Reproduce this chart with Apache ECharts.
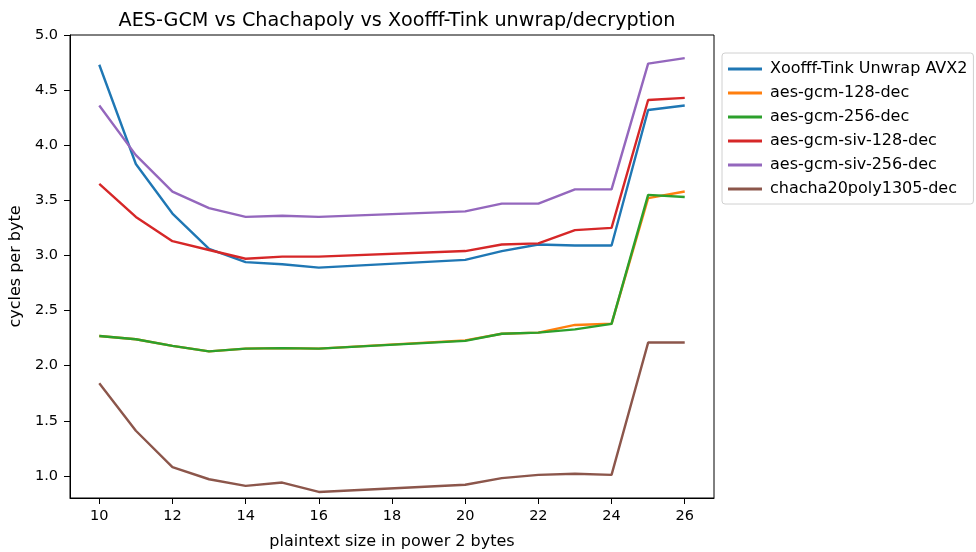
<!DOCTYPE html>
<html>
<head>
<meta charset="utf-8">
<script src="https://cdn.jsdelivr.net/npm/echarts@6/dist/echarts.min.js"></script>
<style>html,body{margin:0;padding:0;background:#fff}#c{width:976px;height:552px}</style>
</head>
<body>
<div id="c"></div>
<script>
const xs = [10, 11, 12, 13, 14, 15, 16, 20, 21, 22, 23, 24, 25, 26];
const seriesNames = ["Xoofff-Tink Unwrap AVX2", "aes-gcm-128-dec", "aes-gcm-256-dec", "aes-gcm-siv-128-dec", "aes-gcm-siv-256-dec", "chacha20poly1305-dec"];
const xoofff = [4.73, 3.83, 3.38, 3.06, 2.94, 2.92, 2.89, 2.96, 3.04, 3.10, 3.09, 3.09, 4.32, 4.36];
const gcm128 = [2.27, 2.24, 2.18, 2.13, 2.155, 2.16, 2.155, 2.23, 2.29, 2.30, 2.37, 2.38, 3.52, 3.58];
const gcm256 = [2.27, 2.24, 2.18, 2.13, 2.155, 2.16, 2.155, 2.225, 2.29, 2.30, 2.33, 2.38, 3.55, 3.53];
const siv128 = [3.65, 3.35, 3.13, 3.05, 2.97, 2.99, 2.99, 3.04, 3.10, 3.11, 3.23, 3.25, 4.41, 4.43];
const siv256 = [4.36, 3.91, 3.58, 3.43, 3.35, 3.36, 3.35, 3.40, 3.47, 3.47, 3.60, 3.60, 4.74, 4.79];
const chacha = [1.84, 1.41, 1.08, 0.97, 0.91, 0.94, 0.855, 0.92, 0.98, 1.01, 1.02, 1.01, 2.21, 2.21];
const xTicks = [10, 12, 14, 16, 18, 20, 22, 24, 26];
const yTicks = [1.0, 1.5, 2.0, 2.5, 3.0, 3.5, 4.0, 4.5, 5.0];
const colors = ["#1f77b4", "#ff7f0e", "#2ca02c", "#d62728", "#9467bd", "#8c564b"];
const values = [xoofff, gcm128, gcm256, siv128, siv256, chacha];

const font = "DejaVu Sans";
const chart = echarts.init(document.getElementById('c'), null, {renderer: 'canvas'});
chart.setOption({
  animation: false,
  backgroundColor: '#fff',
  textStyle: {fontFamily: font},
  title: {
    text: 'AES-GCM vs Chachapoly vs Xoofff-Tink unwrap/decryption',
    left: 392, top: 7, textAlign: 'center',
    textStyle: {fontFamily: font, fontSize: 19.2, fontWeight: 'normal', color: '#000'}
  },
  grid: {left: 70, right: 262, top: 35, bottom: 54, show: true, borderColor: '#000', borderWidth: 1,
    backgroundColor: 'transparent', containLabel: false, outerBoundsMode: 'none'},
  legend: {
    orient: 'vertical', left: 722, top: 53,
    data: seriesNames,
    itemWidth: 34, itemHeight: 3, itemGap: 8,
    icon: 'rect',
    padding: [8, 6, 7, 6],
    borderColor: '#d0d0d0', borderWidth: 1, borderRadius: 3,
    backgroundColor: '#fff',
    textStyle: {fontFamily: font, fontSize: 16, color: '#000', padding: [0, 0, 0, 3]}
  },
  xAxis: {
    type: 'value', min: 9.2, max: 26.8,
    name: 'plaintext size in power 2 bytes', nameLocation: 'middle', nameGap: 36,
    nameTextStyle: {fontFamily: font, fontSize: 16, color: '#000'},
    axisLine: {lineStyle: {color: '#000', width: 1}},
    axisTick: {show: true, length: 6, lineStyle: {color: '#000'}, customValues: xTicks},
    axisLabel: {fontFamily: font, fontSize: 14.5, color: '#000', margin: 11, customValues: xTicks},
    splitLine: {show: false}
  },
  yAxis: {
    type: 'value', min: 0.8, max: 5.0,
    name: 'cycles per byte', nameLocation: 'middle', nameGap: 40, nameRotate: 90,
    nameTextStyle: {fontFamily: font, fontSize: 16, color: '#000'},
    axisLine: {show: true, lineStyle: {color: '#000', width: 1}},
    axisTick: {show: true, length: 6, lineStyle: {color: '#000'}, customValues: yTicks},
    axisLabel: {fontFamily: font, fontSize: 14.5, color: '#000', margin: 12, customValues: yTicks,
      formatter: v => v.toFixed(1)},
    splitLine: {show: false}
  },
  series: seriesNames.map((n, i) => ({
    name: n, type: 'line', showSymbol: false, symbol: 'none',
    data: xs.map((x, j) => [x, values[i][j]]),
    lineStyle: {color: colors[i], width: 2.4},
    itemStyle: {color: colors[i]}
  }))
});
</script>
</body>
</html>
